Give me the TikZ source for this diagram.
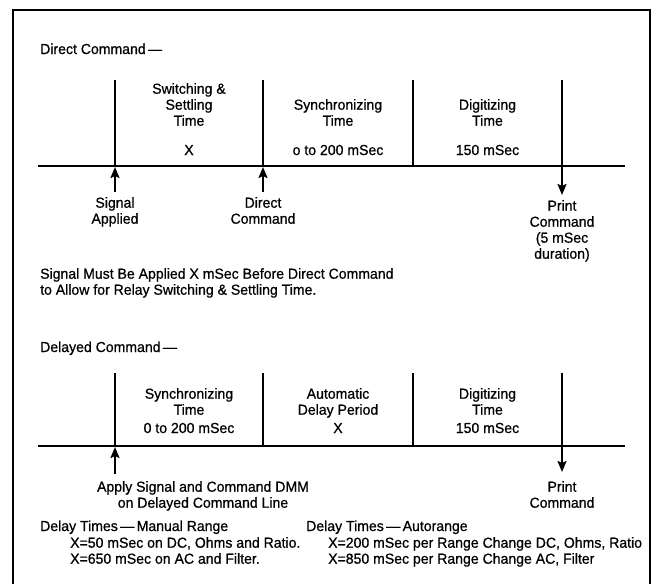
\documentclass[tikz,border=0pt]{standalone}
\usepackage{fontspec}
\setmainfont{Liberation Sans}[FakeBold=0.7, FakeStretch=0.97]
\usetikzlibrary{arrows.meta}
\begin{document}
\begin{tikzpicture}[x=1pt,y=-1pt,
  txt/.style={font=\fontsize{14.5}{16}\selectfont, inner sep=0pt, align=center},
  ltxt/.style={txt, align=left},
  frame/.style={line width=1.1pt},
  tick/.style={line width=1.4pt},
  tline/.style={line width=2.2pt},
  arr/.style={line width=2pt, -{Stealth[length=11pt,width=9pt,inset=2pt]}}]
\useasboundingbox (0,0) rectangle (657,584);
% frame
\coordinate (fbl) at (13,584);
\coordinate (ftl) at (13,10);
\coordinate (ftr) at (650,10);
\coordinate (fbr) at (650,584);
\draw[frame] (fbl) -- (ftl) -- (ftr) -- (fbr);

% ---------------- Direct command ----------------
\node[txt, anchor=base west] (dtitle) at (40,54) {Direct Command\,—};
\coordinate (dL) at (38,166);
\coordinate (dR) at (625,166);
\draw[tline] (dL) -- (dR);
\coordinate (d1t) at (115,80);  \coordinate (d1b) at (115,166);
\coordinate (d2t) at (263,80);  \coordinate (d2b) at (263,166);
\coordinate (d3t) at (413,80);  \coordinate (d3b) at (413,166);
\coordinate (d4t) at (562,80);  \coordinate (d4e) at (562,195);
\draw[tick] (d1t) -- (d1b);
\draw[tick] (d2t) -- (d2b);
\draw[tick] (d3t) -- (d3b);
\draw[arr] (d4t) -- (d4e);
\coordinate (d1a) at (115,192); \coordinate (d1h) at (115,167);
\coordinate (d2a) at (263,192); \coordinate (d2h) at (263,167);
\draw[arr] (d1a) -- (d1h);
\draw[arr] (d2a) -- (d2h);

\node[txt, anchor=north] (dsw) at (189,83) {Switching \&\\Settling\\Time};
\node[txt, anchor=base] (dswv) at (189,155) {X};
\node[txt, anchor=north] (dsy) at (338,99) {Synchronizing\\Time};
\node[txt, anchor=base] (dsyv) at (338,155) {o to 200 mSec};
\node[txt, anchor=north] (ddg) at (487.5,99) {Digitizing\\Time};
\node[txt, anchor=base] (ddgv) at (487.5,155) {150 mSec};

\node[txt, anchor=north] (dsig) at (115,197) {Signal\\Applied};
\node[txt, anchor=north] (ddir) at (263,197) {Direct\\Command};
\node[txt, anchor=north] (dpr) at (562,200) {Print\\Command\\(5 mSec\\duration)};
\node[ltxt, anchor=north west] (dnote) at (40,268) {Signal Must Be Applied X mSec Before Direct Command\\to Allow for Relay Switching \& Settling Time.};

% ---------------- Delayed command ----------------
\node[txt, anchor=base west] (ltitle) at (40,352) {Delayed Command\,—};
\coordinate (lL) at (38,446);
\coordinate (lR) at (625,446);
\draw[tline] (lL) -- (lR);
\coordinate (l1t) at (115,373);  \coordinate (l1b) at (115,446);
\coordinate (l2t) at (263,373);  \coordinate (l2b) at (263,446);
\coordinate (l3t) at (413,373);  \coordinate (l3b) at (413,446);
\coordinate (l4t) at (562,373);  \coordinate (l4e) at (562,472);
\draw[tick] (l1t) -- (l1b);
\draw[tick] (l2t) -- (l2b);
\draw[tick] (l3t) -- (l3b);
\draw[arr] (l4t) -- (l4e);
\coordinate (l1a) at (115,474); \coordinate (l1h) at (115,447);
\draw[arr] (l1a) -- (l1h);

\node[txt, anchor=north] (lsy) at (189,388) {Synchronizing\\Time};
\node[txt, anchor=base] (lsyv) at (189,433) {0 to 200 mSec};
\node[txt, anchor=north] (lad) at (338,388) {Automatic\\Delay Period};
\node[txt, anchor=base] (ladv) at (338,433) {X};
\node[txt, anchor=north] (ldg) at (487.5,388) {Digitizing\\Time};
\node[txt, anchor=base] (ldgv) at (487.5,433) {150 mSec};

\node[txt, anchor=north] (lapp) at (203,481) {Apply Signal and Command DMM\\on Delayed Command Line};
\node[txt, anchor=north] (lpr) at (562,481) {Print\\Command};

\node[txt, anchor=base west] (mhead) at (40,531) {Delay Times\,—\,Manual Range};
\node[ltxt, anchor=north west] (mlines) at (70,537) {X=50 mSec on DC, Ohms and Ratio.\\X=650 mSec on AC and Filter.};
\node[txt, anchor=base west] (ahead) at (306,531) {Delay Times\,—\,Autorange};
\node[ltxt, anchor=north west] (alines) at (328,537) {X=200 mSec per Range Change DC, Ohms, Ratio\\X=850 mSec per Range Change AC, Filter};
\end{tikzpicture}
\end{document}
